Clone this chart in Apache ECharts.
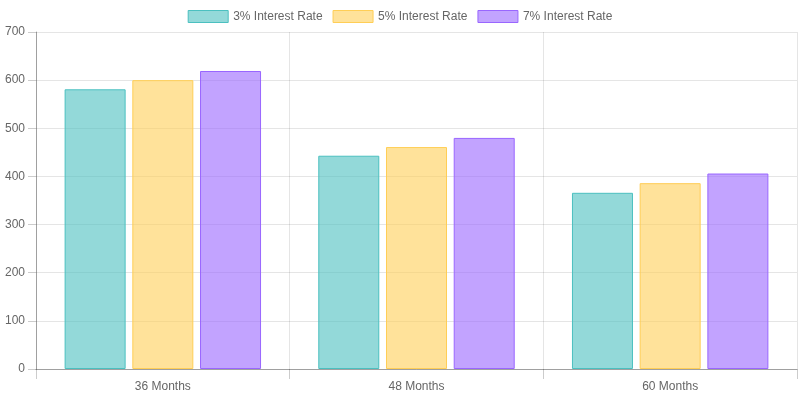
<!DOCTYPE html>
<html>
<head>
<meta charset="utf-8">
<script src="https://cdn.jsdelivr.net/npm/echarts@6/dist/echarts.min.js"></script>
<style>
    html, body { margin: 0; padding: 0; background: #fff; }
    #main { width: 800px; height: 400px; }
</style>
</head>
<body>
<div id="main"></div>
<script>
var categories = ['36 Months', '48 Months', '60 Months'];
var seriesNames = ['3% Interest Rate', '5% Interest Rate', '7% Interest Rate'];
var rate3 = [581, 443, 366];
var rate5 = [600, 461, 386];
var rate7 = [619, 480, 406];
var yTicks = [0, 100, 200, 300, 400, 500, 600, 700];

var fills = ['rgba(75,192,192,0.6)', 'rgba(255,206,86,0.6)', 'rgba(153,102,255,0.6)'];
var borders = ['rgb(75,192,192)', 'rgb(255,206,86)', 'rgb(153,102,255)'];
var font = "'Liberation Sans', Arial, Helvetica, sans-serif";

var myChart = echarts.init(document.getElementById('main'));

function barSeries(i, data) {
    return {
        name: seriesNames[i],
        type: 'bar',
        barWidth: 61,
        barGap: '11%',
        data: data,
        itemStyle: {
            color: fills[i],
            borderColor: borders[i],
            borderWidth: 1
        }
    };
}

var option = {
    animation: false,
    textStyle: { fontFamily: font },
    legend: {
        top: 5,
        left: 'center',
        icon: 'rect',
        itemWidth: 40,
        itemHeight: 12,
        itemGap: 10,
        itemStyle: { borderWidth: 1 },
        textStyle: { color: '#666', fontSize: 12, fontFamily: font },
        data: seriesNames
    },
    grid: {
        left: 36,
        right: 3,
        top: 32,
        bottom: 31,
        containLabel: false
    },
    xAxis: {
        type: 'category',
        data: categories,
        axisLine: { lineStyle: { color: 'rgba(0,0,0,0.3)' } },
        axisTick: { show: true, length: 10, lineStyle: { color: 'rgba(0,0,0,0.2)' } },
        splitLine: { show: true, lineStyle: { color: 'rgba(0,0,0,0.1)' } },
        axisLabel: { color: '#666', fontSize: 12, margin: 12, fontFamily: font }
    },
    yAxis: {
        type: 'value',
        min: yTicks[0],
        max: yTicks[yTicks.length - 1],
        interval: 100,
        axisLine: { show: true, lineStyle: { color: 'rgba(0,0,0,0.3)' } },
        axisTick: { show: true, length: 8, lineStyle: { color: 'rgba(0,0,0,0.2)' } },
        splitLine: { lineStyle: { color: 'rgba(0,0,0,0.1)' } },
        axisLabel: { color: '#666', fontSize: 12, margin: 11, fontFamily: font }
    },
    series: [
        barSeries(0, rate3),
        barSeries(1, rate5),
        barSeries(2, rate7)
    ]
};

myChart.setOption(option);
</script>
</body>
</html>
